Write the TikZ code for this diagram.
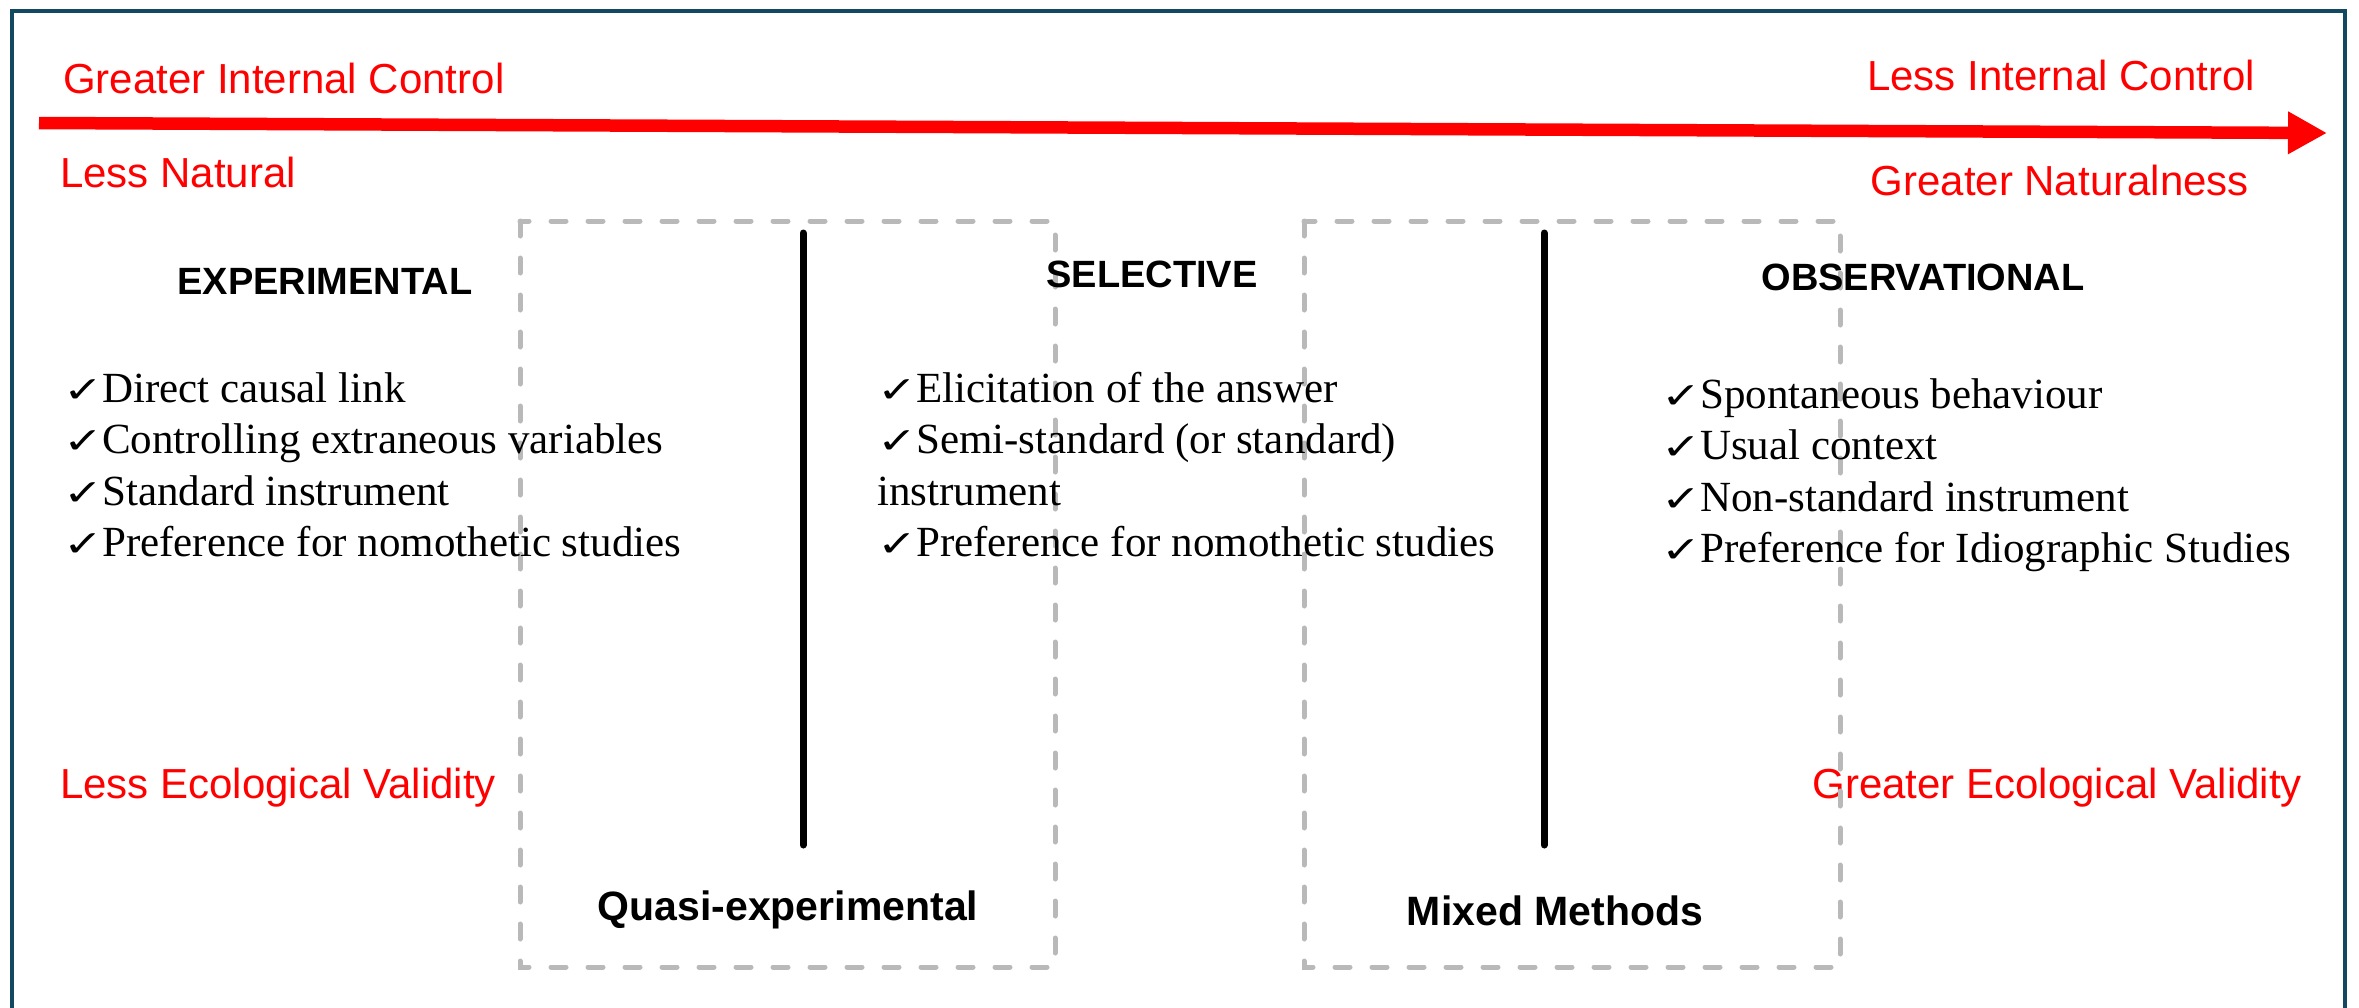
\documentclass[tikz,border=0pt]{standalone}
\usepackage{fontspec}
\usepackage{graphicx}
\setmainfont{Liberation Serif}
\setsansfont{Liberation Sans}
\newfontfamily\symfont{DejaVu Sans}
\usetikzlibrary{arrows.meta}
\definecolor{framecol}{RGB}{18,73,97}
\definecolor{dashgray}{RGB}{185,185,185}
\definecolor{axisred}{RGB}{255,0,0}
% check mark in front of each list item
\newcommand\chk{\makebox[39pt][l]{\scalebox{1.45}[1.1]{\symfont\bfseries\fontsize{33}{33}\selectfont ✓}}}

\begin{document}
\begin{tikzpicture}[x=1pt,y=-1pt,
  redlabel/.style={font=\sffamily\fontsize{42}{50}\selectfont, text=axisred, inner sep=0},
  heading/.style={font=\sffamily\bfseries\fontsize{38}{46}\selectfont, inner sep=0, anchor=base},
  method/.style={font=\sffamily\bfseries\fontsize{41}{48}\selectfont, inner sep=0, anchor=base},
  itemlist/.style={font=\rmfamily\fontsize{43}{51.5}\selectfont, inner sep=0, anchor=base west},
  zone/.style={draw=dashgray, line width=5pt, dash pattern=on 15pt off 22pt, line cap=round},
  divider/.style={line width=7pt, line cap=round},
]
\path[use as bounding box] (0,0) rectangle (2359,1007);
\clip (0,0) rectangle (2359,1007);

% outer frame (open at the bottom edge of the page)
\draw[framecol, line width=4pt] (12,11) rectangle (2345,1040);

% main axis
\coordinate (axisStart) at (39,123);
\coordinate (axisEnd) at (2327,133);
\draw[axisred, line width=12.5pt, -{Triangle[length=39pt,width=40pt]}] (axisStart) -- (axisEnd);

% axis labels
\node[redlabel, anchor=base west] (gic) at (63,93) {Greater Internal Control};
\node[redlabel, anchor=base west] (ln) at (60,187) {Less Natural};
\node[redlabel, anchor=base east] (lic) at (2255,90) {Less Internal Control};
\node[redlabel, anchor=base east] (gn) at (2249,195) {Greater Naturalness};
\node[redlabel, anchor=base west] (lev) at (60,798) {Less Ecological Validity};
\node[redlabel, anchor=base east] (gev) at (2302,798) {Greater Ecological Validity};

% intermediate zones
\draw[zone] (520,221) rectangle (1055,967);
\draw[zone] (1304,221) rectangle (1840,967);

% dividers
\draw[divider] (803,233) -- (803,845);
\draw[divider] (1544,233) -- (1544,845);

% headings
\node[heading] (expHead) at (325,294) {EXPERIMENTAL};
\node[heading] (selHead) at (1152,287) {SELECTIVE};
\node[heading] (obsHead) at (1923,290) {OBSERVATIONAL};
\node[method] (quasi) at (788,920) {Quasi-experimental};
\node[method] (mixed) at (1555,925) {Mixed Methods};

% characteristics
\node[itemlist] (expList) at (63,402) {\begin{tabular}[t]{@{}l@{}}
\chk Direct causal link\\
\chk Controlling extraneous variables\\
\chk Standard instrument\\
\chk Preference for nomothetic studies
\end{tabular}};
\node[itemlist] (selList) at (877,402) {\begin{tabular}[t]{@{}l@{}}
\chk Elicitation of the answer\\
\chk Semi-standard (or standard)\\
instrument\\
\chk Preference for nomothetic studies
\end{tabular}};
\node[itemlist] (obsList) at (1661,408) {\begin{tabular}[t]{@{}l@{}}
\chk Spontaneous behaviour\\
\chk Usual context\\
\chk Non-standard instrument\\
\chk Preference for Idiographic Studies
\end{tabular}};
\end{tikzpicture}
\end{document}
